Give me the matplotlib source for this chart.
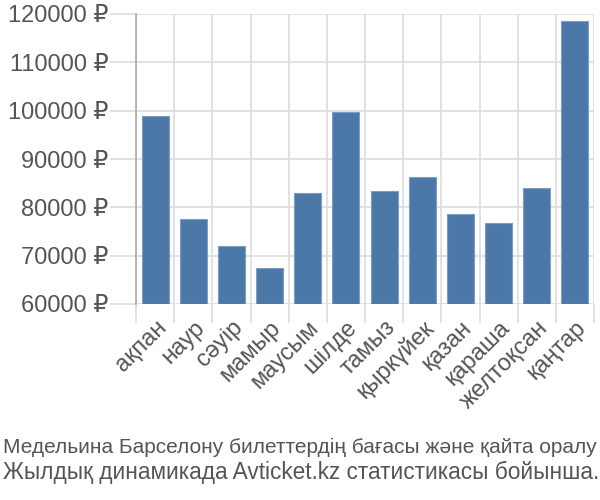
import matplotlib.pyplot as plt
import numpy as np

plt.rcParams['font.family'] = ['Liberation Sans', 'DejaVu Sans']

months = ["ақпан", "наур", "сәуір", "мамыр", "маусым", "шілде", "тамыз",
          "қыркүйек", "қазан", "қараша", "желтоқсан", "қаңтар"]
prices = [98800, 77500, 71900, 67400, 82900, 99800, 83400,
          86200, 78600, 76800, 84000, 118600]
yticks = [60000, 70000, 80000, 90000, 100000, 110000, 120000]
caption = ["Медельина Барселону билеттердің бағасы және қайта оралу",
           "Жылдық динамикада Avticket.kz статистикасы бойынша."]

fig = plt.figure(figsize=(6, 5), dpi=100)
ax = fig.add_axes([0.2267, 0.392, 0.7633, 0.58])

x = np.arange(len(months))
ax.bar(x, np.array(prices) - 60000, bottom=60000, width=0.71,
       color="#4c78a8", edgecolor="#7d9dc4", linewidth=0.8, zorder=3)

ax.set_xlim(-0.5, len(months) - 0.5)
ax.set_ylim(60000, 120000)

# grid lines between categories and at y ticks
ax.set_xticks(np.arange(len(months) + 1) - 0.5, minor=True)
ax.set_xticks(x)
ax.set_xticklabels(months, rotation=45, ha="right", rotation_mode="anchor",
                   fontsize=17, color="#555555")
ax.tick_params(axis="x", which="major", length=0, pad=9)
ax.tick_params(axis="x", which="minor", length=14, color="#dddddd", width=1.2)
ax.grid(True, axis="x", which="minor", color="#dddddd", linewidth=1.2, zorder=0)

ax.set_yticks(yticks)
ax.set_yticklabels([f"{v} ₽" for v in yticks], fontsize=17, color="#555555")
ax.tick_params(axis="y", length=19, color="#dddddd", width=1.2, pad=1)
ax.grid(True, axis="y", color="#dddddd", linewidth=1.2, zorder=0)

for s in ["top", "right", "bottom"]:
    ax.spines[s].set_visible(False)
ax.spines["left"].set_color("#aaaaaa")
ax.spines["left"].set_linewidth(1.2)

# caption lines stretched to the full width like the original
renderer = fig.canvas.get_renderer()
for line, ypos in zip(caption, [0.106, 0.056]):
    t = fig.text(3 / 600, ypos, line, ha="left", va="center",
                 fontsize=16, color="#555555")
    w = t.get_window_extent(renderer).width
    t.set_fontsize(16 * 595 / w)

fig.savefig("out.png", dpi=100)
